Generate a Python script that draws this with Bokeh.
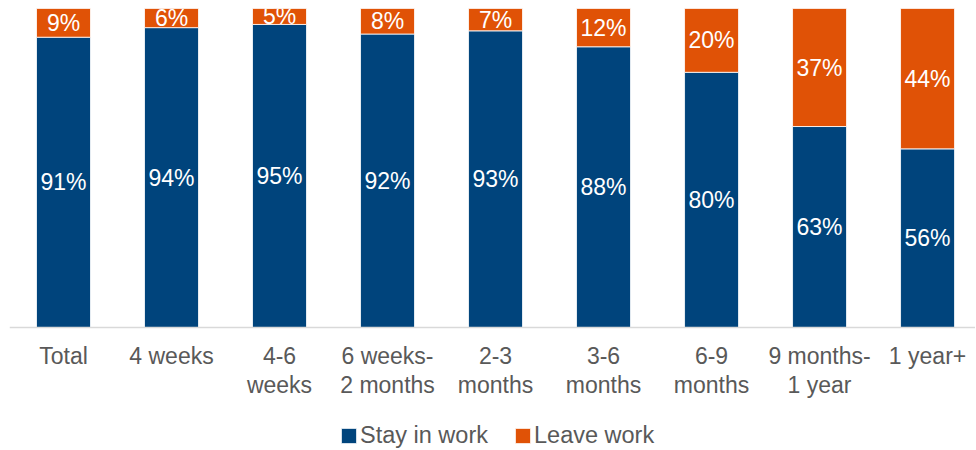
from bokeh.plotting import figure
from bokeh.models import ColumnDataSource, Range1d, Legend, LegendItem, Span
from bokeh.core.properties import value
from bokeh.embed import file_html
from bokeh.resources import INLINE

categories = ["Total", "4 weeks", "4-6\nweeks", "6 weeks-\n2 months", "2-3\nmonths",
              "3-6\nmonths", "6-9\nmonths", "9 months-\n1 year", "1 year+"]
stay = [91, 94, 95, 92, 93, 88, 80, 63, 56]
leave = [9, 6, 5, 8, 7, 12, 20, 37, 44]

BLUE = "#00447C"
ORANGE = "#E05206"
GREY_TXT = "#595959"
FONT = "Liberation Sans"

# layout constants (pixels)
PX_BARS = 319      # height of a 100% bar
PX_BELOW = 121     # room below the baseline for labels and legend

xs = list(range(len(categories)))
src = ColumnDataSource(dict(
    x=xs,
    cat=categories,
    zero=[0] * len(xs),
    stay_top=[s / 100 for s in stay],
    leave_top=[(s + l) / 100 for s, l in zip(stay, leave)],
    stay_mid=[s / 200 for s in stay],
    leave_mid=[(s + l / 2) / 100 for s, l in zip(stay, leave)],
    stay_lbl=[f"{s}%" for s in stay],
    leave_lbl=[f"{l}%" for l in leave],
))

p = figure(frame_width=966, frame_height=PX_BARS + PX_BELOW, output_backend="svg",
           toolbar_location=None,
           x_range=Range1d(-0.5, 8.444), y_range=Range1d(-PX_BELOW / PX_BARS, 1.0),
           min_border_left=9, min_border_right=0, min_border_top=8, min_border_bottom=0)
p.outline_line_color = None
p.grid.visible = False
p.xaxis.visible = False
p.yaxis.visible = False

r1 = p.vbar(x="x", bottom=0, top="stay_top", width=0.5, source=src,
            fill_color=BLUE, line_color="white", line_width=0.8)
r2 = p.vbar(x="x", bottom="stay_top", top="leave_top", width=0.5, source=src,
            fill_color=ORANGE, line_color="white", line_width=0.8)

p.add_layout(Span(location=0, dimension="width", line_color="#d9d9d9", line_width=1.5))

for ycol, tcol in (("stay_mid", "stay_lbl"), ("leave_mid", "leave_lbl")):
    p.text(x="x", y=ycol, text=tcol, source=src, text_align="center",
           text_baseline="middle", text_color="white",
           text_font=value(FONT), text_font_size="23px")

# category labels under the baseline
p.text(x="x", y="zero", text="cat", source=src, text_align="center",
       text_baseline="top", y_offset=15, text_color=GREY_TXT,
       text_font=value(FONT), text_font_size="23px", text_line_height=1.12)

legend = Legend(items=[LegendItem(label="Stay in work", renderers=[r1]),
                       LegendItem(label="Leave work", renderers=[r2])],
                orientation="horizontal", location=(330, -1),
                label_text_font=FONT, label_text_font_size="23.5px",
                label_text_color=GREY_TXT, glyph_width=19, glyph_height=19,
                label_standoff=2, spacing=25, border_line_color=None,
                background_fill_alpha=0, padding=0, margin=0)
p.add_layout(legend, "center")

open("out.html", "w").write(file_html(p, INLINE))
